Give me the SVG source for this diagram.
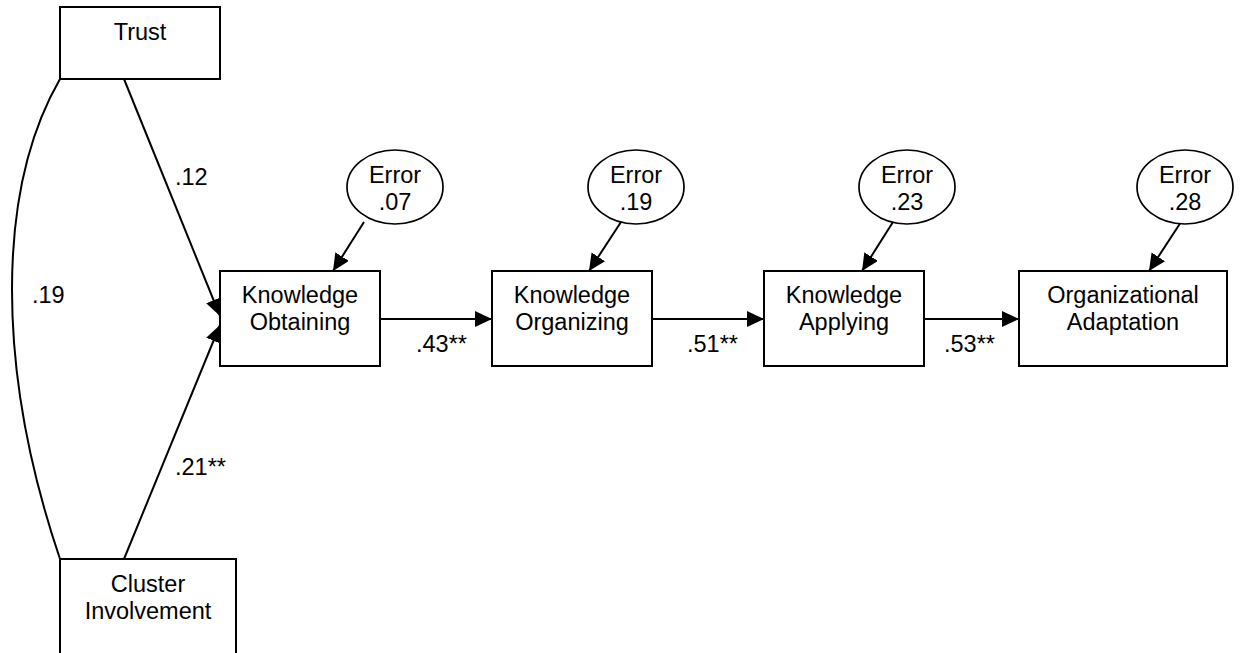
<svg xmlns="http://www.w3.org/2000/svg" width="1244" height="653" viewBox="0 0 1244 653">
<defs>
<marker id="arr" markerUnits="userSpaceOnUse" markerWidth="18" markerHeight="17" refX="17" refY="8" orient="auto">
<path d="M0,0 L17,8 L0,16 z" fill="#000"/>
</marker>
<style>
.box{fill:#fff;stroke:#000;stroke-width:2}
.ell{fill:#fff;stroke:#000;stroke-width:1.7}
.t{font-family:"Liberation Sans",Arial,sans-serif;font-size:23.5px;fill:#000}
.c{text-anchor:middle}
.ln{stroke:#000;stroke-width:2;fill:none}
.ar{stroke:#000;stroke-width:2;fill:none;marker-end:url(#arr)}
</style>
</defs>
<rect width="1244" height="653" fill="#fff"/>
<g id="connectors">
<path class="ln" d="M60,79 C-4,190 -4,370 60,559"/>
<line class="ar" x1="124" y1="79" x2="220" y2="316"/>
<line class="ar" x1="124" y1="559" x2="220" y2="325"/>
<line class="ar" x1="380" y1="319" x2="492" y2="319"/>
<line class="ar" x1="652" y1="319" x2="764" y2="319"/>
<line class="ar" x1="924" y1="319" x2="1019" y2="319"/>
<line class="ar" x1="364" y1="222" x2="333" y2="271"/>
<line class="ar" x1="621" y1="222" x2="589" y2="271"/>
<line class="ar" x1="893" y1="222" x2="862" y2="271"/>
<line class="ar" x1="1181" y1="222" x2="1149" y2="271"/>
<text class="t" x="32" y="303">.19</text>
<text class="t" x="175" y="185">.12</text>
<text class="t" x="175" y="475">.21**</text>
<text class="t" x="416" y="352">.43**</text>
<text class="t" x="687" y="352">.51**</text>
<text class="t" x="944" y="352">.53**</text>
</g>
<g id="trust">
<rect class="box" x="60" y="7" width="160" height="72"/>
<text class="t c" x="140" y="40">Trust</text>
</g>
<g id="cluster">
<rect class="box" x="60" y="559" width="176" height="110"/>
<text class="t c" x="148" y="592">Cluster</text>
<text class="t c" x="148" y="619">Involvement</text>
</g>
<g id="ko">
<rect class="box" x="220" y="271" width="160" height="95"/>
<text class="t c" x="300" y="303">Knowledge</text>
<text class="t c" x="300" y="330">Obtaining</text>
</g>
<g id="korg">
<rect class="box" x="492" y="271" width="160" height="95"/>
<text class="t c" x="572" y="303">Knowledge</text>
<text class="t c" x="572" y="330">Organizing</text>
</g>
<g id="ka">
<rect class="box" x="764" y="271" width="160" height="95"/>
<text class="t c" x="844" y="303">Knowledge</text>
<text class="t c" x="844" y="330">Applying</text>
</g>
<g id="oa">
<rect class="box" x="1019" y="271" width="208" height="95"/>
<text class="t c" x="1123" y="303">Organizational</text>
<text class="t c" x="1123" y="330">Adaptation</text>
</g>
<g id="e1">
<ellipse class="ell" cx="395" cy="187" rx="48" ry="37"/>
<text class="t c" x="395" y="183">Error</text>
<text class="t c" x="395" y="210">.07</text>
</g>
<g id="e2">
<ellipse class="ell" cx="636" cy="187" rx="48" ry="37"/>
<text class="t c" x="636" y="183">Error</text>
<text class="t c" x="636" y="210">.19</text>
</g>
<g id="e3">
<ellipse class="ell" cx="907" cy="187" rx="48" ry="37"/>
<text class="t c" x="907" y="183">Error</text>
<text class="t c" x="907" y="210">.23</text>
</g>
<g id="e4">
<ellipse class="ell" cx="1185" cy="187" rx="48" ry="37"/>
<text class="t c" x="1185" y="183">Error</text>
<text class="t c" x="1185" y="210">.28</text>
</g>
</svg>
